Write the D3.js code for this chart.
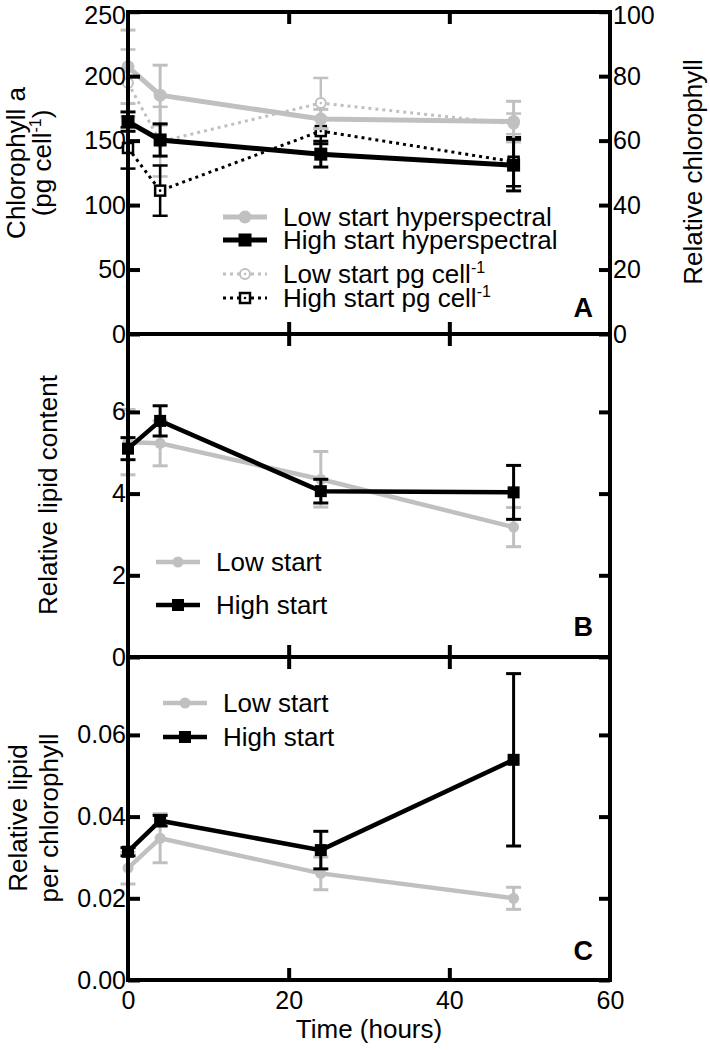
<!DOCTYPE html>
<html><head><meta charset="utf-8">
<script src="https://cdn.jsdelivr.net/npm/d3@7"></script>
<style>
body{margin:0;background:#fff}
text{font-family:"Liberation Sans",Arial,Helvetica,sans-serif;fill:#000}
</style>
</head><body>
<svg id="chart" width="710" height="1050"></svg>
<script>
// ---------- DATA ----------
const times = [0, 4, 24, 48];
const xTicks = [0, 20, 40, 60];

// Panel A : hyperspectral (relative chlorophyll, right axis)
const lowHyper = [82.9, 74.1, 66.7, 65.9];
const lowHyperErr = [11.4, 9.3, 3.0, 6.3];
const highHyper = [65.9, 60.2, 55.8, 52.4];
const highHyperErr = [3.0, 5.0, 4.0, 8.0];
// Panel A : pg cell-1 (left axis)
const lowPg = [194.7, 149.2, 179.1, 163.0];
const lowPgErr = [26, 27, 19.5, 8];
const highPg = [144.3, 111.2, 157.4, 133.6];
const highPgErr = [16, 19.5, 10, 19];
const aLeftTicks = [0, 50, 100, 150, 200, 250];
const aRightTicks = [0, 20, 40, 60, 80, 100];

// Panel B : relative lipid content
const lowLipid = [5.26, 5.23, 4.35, 3.18];
const lowLipidErr = [0.8, 0.55, 0.68, 0.48];
const highLipid = [5.10, 5.78, 4.06, 4.03];
const highLipidErr = [0.27, 0.37, 0.29, 0.66];
const bTicks = [0, 2, 4, 6];

// Panel C : relative lipid per chlorophyll
const lowRatio = [0.0274, 0.0347, 0.0261, 0.0200];
const lowRatioErr = [0.0039, 0.006, 0.004, 0.0027];
const highRatio = [0.0314, 0.0390, 0.0318, 0.0539];
const highRatioErr = [0.001, 0.0013, 0.0046, 0.0211];
const cTicks = [0, 0.02, 0.04, 0.06];

// ---------- LAYOUT ----------
const svg = d3.select("#chart");
const L = 128, R = 610;
const GRAY = "#c0c0c0", BLACK = "#000";
const x = d3.scaleLinear().domain([0, 60]).range([L, R]);

const panels = {
  A: {top: 12, bottom: 334},
  B: {top: 334, bottom: 657},
  C: {top: 657, bottom: 980}
};
const yA = d3.scaleLinear().domain([0, 250]).range([334, 11.7]);
const yAR = d3.scaleLinear().domain([0, 100]).range([334, 11.7]);
const yB = d3.scaleLinear().domain([0, 8]).range([657, 330.2]);
const yC = d3.scaleLinear().domain([0, 0.08]).range([980, 653.2]);

const TICK_FS = 25;

function styleAxis(g) {
  g.select(".domain").remove();
  g.selectAll(".tick line").attr("stroke", BLACK).attr("stroke-width", 4);
  g.selectAll(".tick text").attr("font-size", TICK_FS).attr("fill", BLACK)
    .style("font-family", '"Liberation Sans",Arial,sans-serif');
}

function frame(p, yL, ticksL, fmtL, yR, ticksR, fmtR, topLabelShift) {
  const P = panels[p];
  const gl = svg.append("g").attr("transform", `translate(${L},0)`)
    .call(d3.axisLeft(yL).tickValues(ticksL).tickFormat(fmtL).tickSizeInner(-12).tickSizeOuter(0).tickPadding(2))
    .call(styleAxis);
  const gr = svg.append("g").attr("transform", `translate(${R},0)`)
    .call(d3.axisRight(yR).tickValues(ticksR).tickFormat(fmtR).tickSizeInner(-11).tickSizeOuter(0).tickPadding(3))
    .call(styleAxis);
  if (topLabelShift) {
    // keep the topmost labels inside the picture
    gl.selectAll(".tick text").filter(d => d === ticksL[ticksL.length - 1]).attr("y", topLabelShift);
    gr.selectAll(".tick text").filter(d => d === ticksR[ticksR.length - 1]).attr("y", topLabelShift);
  }
  svg.append("g").attr("transform", `translate(0,${P.top})`)
    .call(d3.axisTop(x).tickValues([20, 40]).tickFormat("").tickSizeInner(-12).tickSizeOuter(0))
    .call(styleAxis);
  svg.append("g").attr("transform", `translate(0,${P.bottom})`)
    .call(d3.axisBottom(x).tickValues([20, 40]).tickFormat("").tickSizeInner(-12).tickSizeOuter(0))
    .call(styleAxis);
  svg.append("rect").attr("x", L).attr("y", P.top).attr("width", R - L).attr("height", P.bottom - P.top)
    .attr("fill", "none").attr("stroke", BLACK).attr("stroke-width", 4);
}

function series(yS, vals, errs, o) {
  const g = svg.append("g");
  const pts = times.map((t, i) => ({t, v: vals[i], e: errs[i]}));
  const cap = 7.5;
  const eg = g.append("g").attr("stroke", o.color).attr("stroke-width", o.ebw || 3);
  pts.forEach(p => {
    const y1 = yS(p.v - p.e), y2 = yS(p.v + p.e), xx = x(p.t);
    eg.append("line").attr("x1", xx).attr("x2", xx).attr("y1", y1).attr("y2", y2);
    eg.append("line").attr("x1", xx - cap).attr("x2", xx + cap).attr("y1", y1).attr("y2", y1);
    eg.append("line").attr("x1", xx - cap).attr("x2", xx + cap).attr("y1", y2).attr("y2", y2);
  });
  g.append("path").datum(pts)
    .attr("d", d3.line().x(d => x(d.t)).y(d => yS(d.v)))
    .attr("fill", "none").attr("stroke", o.color).attr("stroke-width", o.lw)
    .attr("stroke-dasharray", o.dash || null).attr("stroke-linejoin", "miter");
  pts.forEach(p => marker(g, x(p.t), yS(p.v), o));
}

function marker(g, cx, cy, o) {
  const s = o.size;
  if (o.shape === "circle") {
    g.append("circle").attr("cx", cx).attr("cy", cy).attr("r", s / 2)
      .attr("fill", o.open ? "#fff" : o.color).attr("stroke", o.color).attr("stroke-width", o.open ? 2 : 0);
  } else {
    g.append("rect").attr("x", cx - s / 2).attr("y", cy - s / 2).attr("width", s).attr("height", s)
      .attr("fill", o.open ? "#fff" : o.color).attr("stroke", o.color).attr("stroke-width", o.open ? 2.5 : 0);
  }
  if (o.open) g.append("circle").attr("cx", cx).attr("cy", cy).attr("r", 1.3).attr("fill", o.color);
}

function legendRow(lx, ly, tx, label, sup, o) {
  const g = svg.append("g");
  g.append("line").attr("x1", lx - 22).attr("x2", lx + 22).attr("y1", ly).attr("y2", ly)
    .attr("stroke", o.color).attr("stroke-width", o.lw).attr("stroke-dasharray", o.dash || null);
  marker(g, lx, ly, o);
  const t = g.append("text").attr("x", tx).attr("y", ly + 9).attr("font-size", 26).text(label);
  if (sup) t.append("tspan").attr("dy", -10).attr("font-size", 16).text(sup);
}

// styles
const sLowHyper = {color: GRAY, lw: 5, shape: "circle", size: 13, ebw: 3};
const sHighHyper = {color: BLACK, lw: 5, shape: "square", size: 13, ebw: 3};
const sLowPg = {color: GRAY, lw: 3, dash: "3,4", shape: "circle", size: 10, open: true, ebw: 2.5};
const sHighPg = {color: BLACK, lw: 3, dash: "3,4", shape: "square", size: 10, open: true, ebw: 2.5};
const sLow = {color: GRAY, lw: 4.5, shape: "circle", size: 11, ebw: 3};
const sHigh = {color: BLACK, lw: 4.5, shape: "square", size: 12, ebw: 3};

// ---------- PANEL A ----------
series(yA, lowPg, lowPgErr, sLowPg);
series(yA, highPg, highPgErr, sHighPg);
series(yAR, lowHyper, lowHyperErr, sLowHyper);
series(yAR, highHyper, highHyperErr, sHighHyper);
frame("A", yA, aLeftTicks, d3.format("d"), yAR, aRightTicks, d3.format("d"), 4);
legendRow(245, 217, 283, "Low start hyperspectral", null, sLowHyper);
legendRow(245, 240, 283, "High start hyperspectral", null, sHighHyper);
legendRow(245, 274, 283, "Low start pg cell", "-1", sLowPg);
legendRow(245, 298, 283, "High start pg cell", "-1", sHighPg);

// ---------- PANEL B ----------
series(yB, lowLipid, lowLipidErr, sLow);
series(yB, highLipid, highLipidErr, sHigh);
frame("B", yB, bTicks, d3.format("d"), yB, bTicks, () => "", 0);
legendRow(178, 562, 216, "Low start", null, sLow);
legendRow(178, 605, 216, "High start", null, sHigh);

// ---------- PANEL C ----------
series(yC, lowRatio, lowRatioErr, sLow);
series(yC, highRatio, highRatioErr, sHigh);
frame("C", yC, cTicks, d3.format(".2f"), yC, cTicks, () => "", 0);
legendRow(185, 703, 223, "Low start", null, sLow);
legendRow(185, 737, 223, "High start", null, sHigh);

// x tick labels
svg.append("g").attr("transform", `translate(0,980)`)
  .call(d3.axisBottom(x).tickValues(xTicks).tickFormat(d3.format("d")).tickSize(0).tickPadding(11))
  .call(styleAxis);

// ---------- TITLES ----------
const TFS = 26;
function vtitle(tx, ty, parts) {
  const t = svg.append("text").attr("transform", `translate(${tx},${ty}) rotate(-90)`)
    .attr("text-anchor", "middle").attr("font-size", TFS);
  parts.forEach(p => {
    const s = t.append("tspan").text(p.s);
    if (p.sup) s.attr("dy", -10).attr("font-size", 16);
    if (p.after) s.attr("dy", 10);
  });
}
vtitle(25, 163, [{s: "Chlorophyll a"}]);
vtitle(51, 163, [{s: "(pg cell"}, {s: "-1", sup: true}, {s: ")", after: true}]);
vtitle(702, 172, [{s: "Relative chlorophyll"}]);
vtitle(57, 495, [{s: "Relative lipid content"}]);
vtitle(27, 818, [{s: "Relative lipid"}]);
vtitle(58, 818, [{s: "per chlorophyll"}]);
svg.append("text").attr("x", (L + R) / 2).attr("y", 1038).attr("text-anchor", "middle")
  .attr("font-size", TFS).text("Time (hours)");

// panel letters
[["A", 317], ["B", 636], ["C", 960]].forEach(([s, yy]) => {
  svg.append("text").attr("x", 593).attr("y", yy).attr("text-anchor", "end")
    .attr("font-size", 27).attr("font-weight", "bold").text(s);
});
</script>
</body></html>
